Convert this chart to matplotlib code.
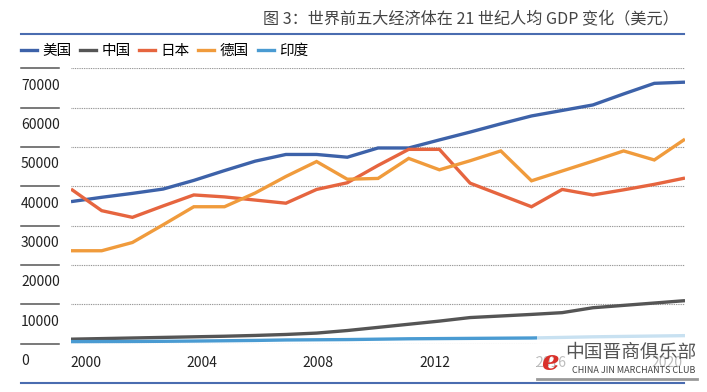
import numpy as np
import matplotlib
matplotlib.use('Agg')
import matplotlib.pyplot as plt
from matplotlib.transforms import blended_transform_factory, offset_copy
from matplotlib.lines import Line2D
from matplotlib.patches import Rectangle

plt.rcParams['font.family'] = ['Noto Sans CJK SC', 'DejaVu Sans']

years = list(range(2000, 2021))
usa = [36100, 37200, 38200, 39300, 41500, 44000, 46400, 48100, 48100, 47400, 49750,
       49750, 51800, 53800, 55900, 57900, 59300, 60700, 63500, 66200, 66500]
china = [1100, 1250, 1400, 1550, 1700, 1850, 2050, 2300, 2650, 3300, 4100,
         4900, 5700, 6600, 7000, 7400, 7850, 9100, 9700, 10300, 10900]
japan = [39300, 33800, 32100, 35000, 37800, 37300, 36500, 35700, 39200, 40900, 45300,
         49400, 49400, 40800, 37800, 34800, 39200, 37800, 39100, 40500, 42100]
germany = [23600, 23600, 25700, 30200, 34800, 34800, 38300, 42500, 46300, 41800, 42000,
           47100, 44200, 46500, 49000, 41400, 43900, 46400, 49000, 46700, 52000]
india = [480, 500, 520, 560, 620, 700, 780, 900, 950, 1000, 1100,
         1200, 1250, 1300, 1350, 1400, 1550, 1700, 1800, 1900, 2000]

names = ['美国', '中国', '日本', '德国', '印度']
colors = ['#3d62a9', '#555555', '#e6653f', '#f09b3c', '#4a9bd2']
series = [usa, china, japan, germany, india]

yticks = list(range(0, 70001, 10000))
xticks = years[::4]

W, H = 707, 392
fig = plt.figure(figsize=(W / 100, H / 100), dpi=100)

# plot area (pixel box)
ax = fig.add_axes([71 / W, 1 - 343.5 / H, 614 / W, 275.1 / H])
for vals, c in zip(series, colors):
    ax.plot(years, vals, color=c, lw=2.4, solid_capstyle='butt', solid_joinstyle='miter')
ax.set_xlim(2000, 2020)
ax.set_ylim(0, 70000)
for s in ax.spines.values():
    s.set_visible(False)
ax.set_xticks([])
ax.set_yticks(yticks)
ax.tick_params(axis='y', length=0, labelleft=False)
ax.grid(axis='y', color='#8a8a8a', lw=0.8, linestyle=(0, (0.8, 0.8)))
ax.set_axisbelow(True)

# y labels: short rule on the left, number below it
tr = blended_transform_factory(fig.transFigure, ax.transData)
for v in yticks:
    fig.add_artist(Line2D([21 / W, 59 / W], [v, v], transform=tr, color='#555555', lw=1.1))
    ax.text(21 / W, v, str(v), transform=offset_copy(tr, fig=fig, y=-17.5, units='dots'),
            ha='left', va='center', fontsize=10, color='#222222')

# x labels sit on their own evenly spaced scale
ax2 = ax.twiny()
ax2.set_xlim(1999.5, 2020.61)
ax2.xaxis.set_ticks_position('bottom')
ax2.set_xticks(xticks)
ax2.tick_params(axis='x', length=0, pad=9, labelsize=10, labelcolor='#222222')
for s in ax2.spines.values():
    s.set_visible(False)

# title and rules
fig.text(679 / W, 1 - 20 / H, '图 3：世界前五大经济体在 21 世纪人均 GDP 变化（美元）',
         ha='right', va='center', fontsize=11.6, color='#444444')
fig.add_artist(Line2D([21 / W, 684 / W], [1 - 33.7 / H] * 2, color='#4a6cb0', lw=1.5))
fig.add_artist(Line2D([21 / W, 684 / W], [1 - 382.7 / H] * 2, color='#4a6cb0', lw=1.5))

handles = [Line2D([], [], color=c, lw=2.4) for c in colors]
fig.legend(handles, names, loc='center left', bbox_to_anchor=(21 / W, 1 - 51 / H),
           ncol=5, frameon=False, fontsize=10.5, handlelength=1.1, handletextpad=0.35,
           columnspacing=0.6, borderpad=0, borderaxespad=0)

# watermark box
fig.add_artist(Rectangle((537 / W, 1 - 378 / H), 160 / W, 46 / H, transform=fig.transFigure,
                         facecolor='white', alpha=0.7, edgecolor='none', zorder=10))
fig.add_artist(Line2D([537 / W, 697 / W], [1 - 379 / H] * 2, color='#999999', lw=2, zorder=10))
fig.text(565 / W, 1 - 352 / H, '中国晋商俱乐部', ha='left', va='center', fontsize=13.5,
         color='#555555', zorder=11)
fig.text(572 / W, 1 - 370.5 / H, 'CHINA JIN MARCHANTS CLUB', ha='left', va='center',
         fontsize=6.5, color='#444444', zorder=11)
fig.text(550 / W, 1 - 362 / H, 'e', ha='center', va='center', fontsize=20, style='italic',
         family='DejaVu Serif', weight='bold', color='#d9302a', zorder=11)

fig.savefig('out.png', dpi=100)
